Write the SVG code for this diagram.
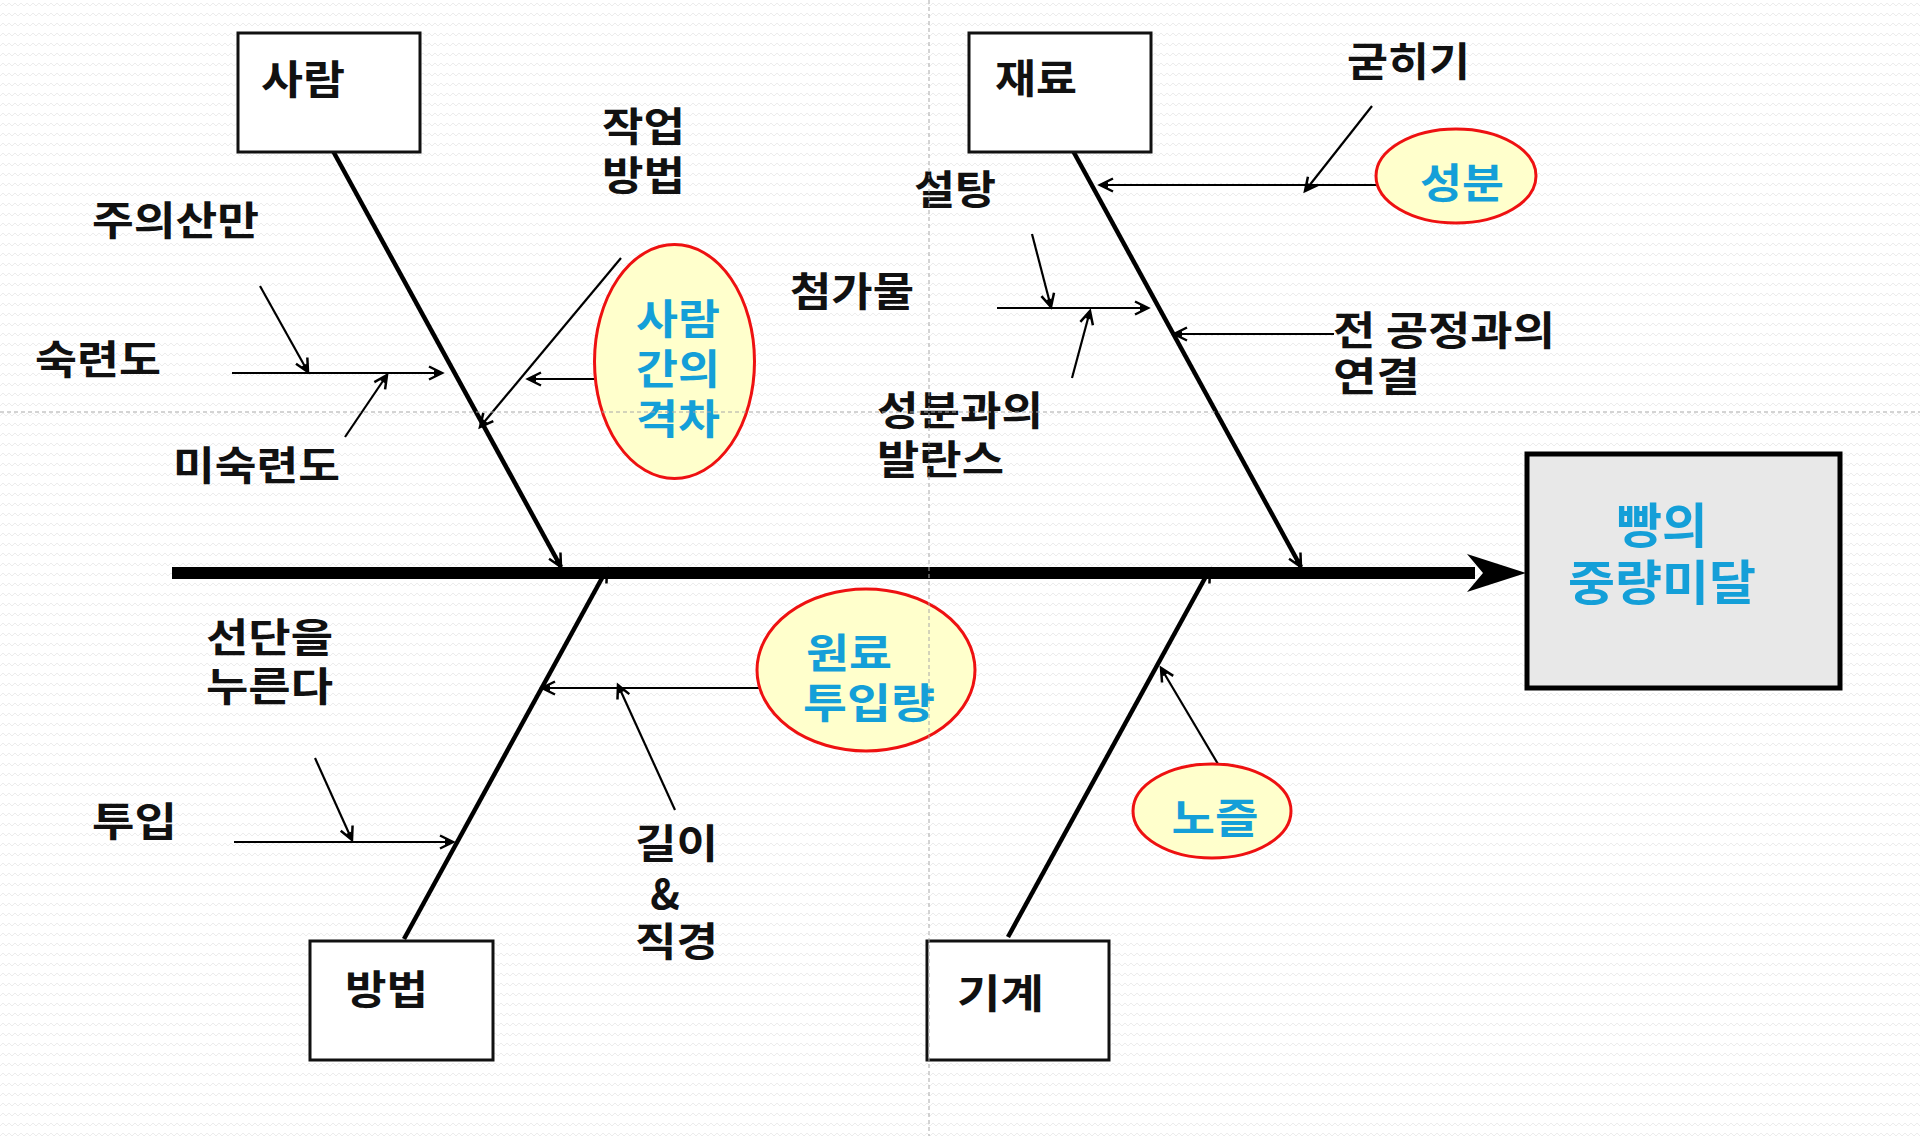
<svg xmlns="http://www.w3.org/2000/svg" width="1920" height="1136" viewBox="0 0 1920 1136">
<defs>
<pattern id="bg" width="12" height="10" patternUnits="userSpaceOnUse">
<path d="M0 6 L3 3 L6 6 L9 3 L12 6" fill="none" stroke="#ececec" stroke-width="1"/>
</pattern>
<marker id="ah" markerUnits="userSpaceOnUse" markerWidth="20" markerHeight="20" refX="15" refY="8" orient="auto" viewBox="0 0 20 16">
<path d="M2 1.5 L15 8 L2 14.5" fill="none" stroke="#000" stroke-width="2.5" stroke-linejoin="miter"/>
<path d="M7 5 L15 8 L7 11 Z" fill="#000"/>
</marker>
</defs>
<style>
.t{font-family:"Noto Sans CJK KR","Noto Sans",sans-serif;font-weight:bold;font-size:40px;fill:#111}
.b{font-family:"Noto Sans CJK KR","Noto Sans",sans-serif;font-weight:bold;font-size:41px;fill:#149fd8}
.box{fill:#fff;stroke:#111;stroke-width:3}
.ell{fill:#ffffcc;stroke:#ee1111;stroke-width:3}
.bone{stroke:#000;stroke-width:4.5;fill:none;marker-end:url(#ah)}
.sub{stroke:#000;stroke-width:2.2;fill:none;marker-end:url(#ah)}
.guide{stroke:#a8a8a8;stroke-width:1;stroke-dasharray:4 3;fill:none}
</style>
<rect x="0" y="0" width="1920" height="1136" fill="#fff"/>
<rect x="0" y="0" width="1920" height="1136" fill="url(#bg)"/>

<g id="connectors">
<line x1="172" y1="573" x2="1475" y2="573" stroke="#000" stroke-width="12"/>
<polygon points="1526,573 1467,554 1483,573 1467,592" fill="#000"/>
<line class="bone" x1="333" y1="151" x2="561" y2="567"/>
<line class="bone" x1="1072" y1="149" x2="1301" y2="567"/>
<line class="bone" x1="404" y1="939" x2="607" y2="569"/>
<line class="bone" x1="1008" y1="937" x2="1210" y2="569"/>
<line class="sub" x1="232" y1="373" x2="442" y2="373"/>
<line class="sub" x1="260" y1="286" x2="308" y2="372"/>
<line class="sub" x1="345" y1="437" x2="387" y2="375"/>
<line class="sub" x1="621" y1="258" x2="480" y2="427"/>
<line class="sub" x1="595" y1="379" x2="528" y2="379" stroke-width="2.6"/>
<line class="sub" x1="1372" y1="106" x2="1305" y2="191"/>
<line class="sub" x1="1376" y1="185" x2="1100" y2="185"/>
<line class="sub" x1="997" y1="308" x2="1148" y2="308"/>
<line class="sub" x1="1032" y1="234" x2="1051" y2="307"/>
<line class="sub" x1="1072" y1="378" x2="1090" y2="311"/>
<line class="sub" x1="1334" y1="334" x2="1174" y2="334"/>
<line class="sub" x1="759" y1="688" x2="542" y2="688"/>
<line class="sub" x1="675" y1="810" x2="618" y2="685"/>
<line class="sub" x1="234" y1="842" x2="453" y2="842"/>
<line class="sub" x1="315" y1="758" x2="352" y2="840"/>
<line class="sub" x1="1218" y1="764" x2="1161" y2="668"/>
</g>

<g id="person">
<rect class="box" x="238" y="33" width="182" height="119"/>
<text class="t" x="261" y="94" textLength="84" lengthAdjust="spacingAndGlyphs">사람</text>
</g>
<g id="material">
<rect class="box" x="969" y="33" width="182" height="119"/>
<text class="t" x="995" y="93" textLength="82" lengthAdjust="spacingAndGlyphs">재료</text>
</g>
<g id="method">
<rect class="box" x="310" y="941" width="183" height="119"/>
<text class="t" x="345" y="1004" textLength="83" lengthAdjust="spacingAndGlyphs">방법</text>
</g>
<g id="machine">
<rect class="box" x="927" y="941" width="182" height="119"/>
<text class="t" x="957" y="1008" textLength="87" lengthAdjust="spacingAndGlyphs">기계</text>
</g>
<g id="effect">
<rect x="1527" y="454" width="313" height="234" fill="#e8e8e8" stroke="#000" stroke-width="5"/>
<text class="b" x="1662" y="543" text-anchor="middle" style="font-size:48px" textLength="91" lengthAdjust="spacingAndGlyphs">빵의</text>
<text class="b" x="1662" y="600" text-anchor="middle" style="font-size:48px" textLength="188" lengthAdjust="spacingAndGlyphs">중량미달</text>
</g>

<g id="gap">
<ellipse class="ell" cx="674.5" cy="361.5" rx="80" ry="117"/>
<text class="b" x="678" y="334" text-anchor="middle" textLength="84" lengthAdjust="spacingAndGlyphs">사람</text>
<text class="b" x="678" y="384" text-anchor="middle" textLength="84" lengthAdjust="spacingAndGlyphs">간의</text>
<text class="b" x="678" y="434" text-anchor="middle" textLength="84" lengthAdjust="spacingAndGlyphs">격차</text>
</g>
<g id="component">
<ellipse class="ell" cx="1456" cy="176" rx="80" ry="47"/>
<text class="b" x="1462" y="198" text-anchor="middle" textLength="84" lengthAdjust="spacingAndGlyphs">성분</text>
</g>
<g id="input-amount">
<ellipse class="ell" cx="866" cy="670" rx="109" ry="81"/>
<text class="b" x="806" y="668" textLength="86" lengthAdjust="spacingAndGlyphs">원료</text>
<text class="b" x="803" y="718" textLength="132" lengthAdjust="spacingAndGlyphs">투입량</text>
</g>
<g id="nozzle">
<ellipse class="ell" cx="1212" cy="811" rx="79" ry="47"/>
<text class="b" x="1215" y="833" text-anchor="middle" textLength="87" lengthAdjust="spacingAndGlyphs">노즐</text>
</g>

<g id="labels">
<text class="t" x="92" y="235" textLength="167" lengthAdjust="spacingAndGlyphs">주의산만</text>
<text class="t" x="35" y="374" textLength="126" lengthAdjust="spacingAndGlyphs">숙련도</text>
<text class="t" x="173" y="480" textLength="167" lengthAdjust="spacingAndGlyphs">미숙련도</text>
<text class="t" x="602" y="141" textLength="83" lengthAdjust="spacingAndGlyphs">작업</text>
<text class="t" x="602" y="190" textLength="83" lengthAdjust="spacingAndGlyphs">방법</text>
<text class="t" x="1347" y="76" textLength="123" lengthAdjust="spacingAndGlyphs">굳히기</text>
<text class="t" x="914" y="204" textLength="82" lengthAdjust="spacingAndGlyphs">설탕</text>
<text class="t" x="790" y="306" textLength="124" lengthAdjust="spacingAndGlyphs">첨가물</text>
<text class="t" x="877" y="425" textLength="166" lengthAdjust="spacingAndGlyphs">성분과의</text>
<text class="t" x="877" y="474" textLength="127" lengthAdjust="spacingAndGlyphs">발란스</text>
<text class="t" x="1333" y="345" textLength="222" lengthAdjust="spacingAndGlyphs">전 공정과의</text>
<text class="t" x="1333" y="391" textLength="87" lengthAdjust="spacingAndGlyphs">연결</text>
<text class="t" x="206" y="652" textLength="127" lengthAdjust="spacingAndGlyphs">선단을</text>
<text class="t" x="206" y="701" textLength="127" lengthAdjust="spacingAndGlyphs">누른다</text>
<text class="t" x="92" y="836" textLength="85" lengthAdjust="spacingAndGlyphs">투입</text>
<text class="t" x="635" y="858" textLength="83" lengthAdjust="spacingAndGlyphs">길이</text>
<text class="t" x="665" y="909" text-anchor="middle">&amp;</text>
<text class="t" x="635" y="956" textLength="83" lengthAdjust="spacingAndGlyphs">직경</text>
</g>

<g id="guides">
<line class="guide" x1="929" y1="0" x2="929" y2="1136"/>
<line class="guide" x1="0" y1="412" x2="1920" y2="412"/>
</g>
</svg>
